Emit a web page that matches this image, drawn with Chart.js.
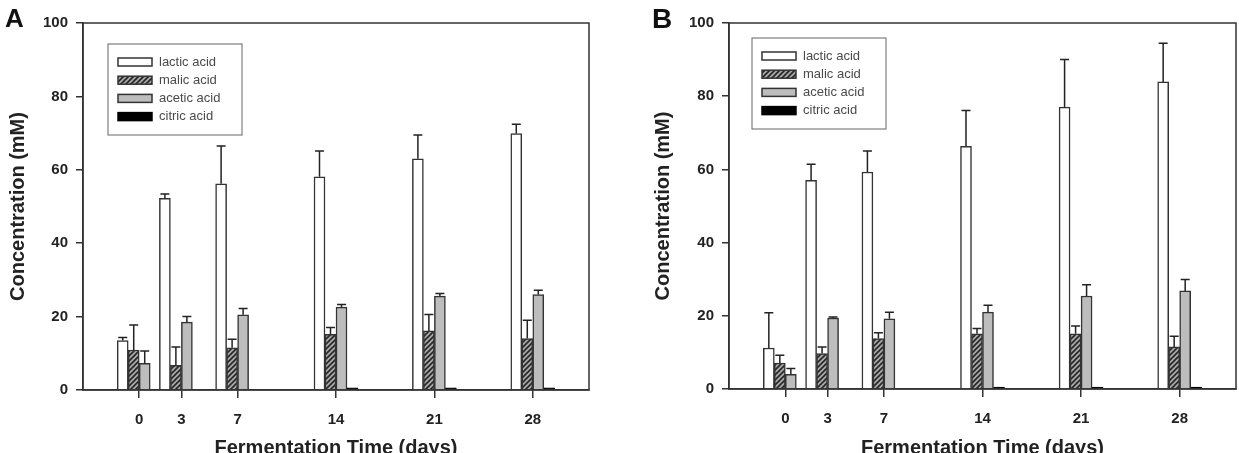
<!DOCTYPE html>
<html>
<head>
<meta charset="utf-8">
<script src="https://cdn.jsdelivr.net/npm/chart.js@4/dist/chart.umd.min.js"></script>
<style>
  body { margin: 0; background: #fff; }
  .panel { position: absolute; top: 0; height: 453px; }
  .tag { position: absolute; font: bold 26px Arial, "Liberation Sans", sans-serif; line-height: 1; color: #111; }
</style>
</head>
<body>
<div class="panel" style="left:0;width:600px"><canvas id="chartA"></canvas></div>
<div class="panel" style="left:620px;width:619px"><canvas id="chartB"></canvas></div>
<div class="tag" style="left:5px;top:5px">A</div>
<div class="tag" style="left:652px;top:5px;font-size:28px">B</div>
<script>
// Daten (mM), Fehler = obere Standardabweichung
const days = [0, 3, 7, 14, 21, 28];
const seriesNames = ['lactic acid', 'malic acid', 'acetic acid', 'citric acid'];

const lacticA = [13.5, 52.2, 56.2, 58.1, 63.0, 69.9];
const lacticErrA = [0.8, 1.2, 10.3, 7.0, 6.5, 2.5];
const malicA = [10.9, 6.7, 11.5, 15.2, 16.1, 14.0];
const malicErrA = [6.8, 5.0, 2.3, 1.8, 4.5, 5.0];
const aceticA = [7.3, 18.5, 20.5, 22.6, 25.6, 26.0];
const aceticErrA = [3.3, 1.5, 1.7, 0.7, 0.7, 1.2];
const citricA = [0, 0, 0, 0.6, 0.6, 0.6];

const lacticB = [11.2, 57.0, 59.3, 66.3, 77.0, 83.9];
const lacticErrB = [9.6, 4.4, 5.7, 9.8, 13.0, 10.6];
const malicB = [7.1, 9.7, 13.8, 15.1, 15.1, 11.5];
const malicErrB = [2.1, 1.8, 1.6, 1.4, 2.1, 2.9];
const aceticB = [4.0, 19.4, 19.2, 21.0, 25.4, 26.8];
const aceticErrB = [1.6, 0.3, 1.8, 1.9, 3.1, 3.1];
const citricB = [0, 0, 0, 0.5, 0.5, 0.5];

const yTicks = [0, 20, 40, 60, 80, 100];

const FONT = 'Arial, "Liberation Sans", sans-serif';
const LINE = '#333';

// schraffiertes Muster fuer malic acid
function hatch(ctx) {
  const c = document.createElement('canvas');
  c.width = 5; c.height = 5;
  const g = c.getContext('2d');
  g.fillStyle = '#a8a8a8';
  g.fillRect(0, 0, 5, 5);
  g.strokeStyle = '#262626';
  g.lineWidth = 1.6;
  g.beginPath();
  g.moveTo(-1, 6); g.lineTo(6, -1);
  g.moveTo(-3, 3); g.lineTo(3, -3);
  g.moveTo(2, 8); g.lineTo(8, 2);
  g.stroke();
  return ctx.createPattern(c, 'repeat');
}

// Fehlerbalken nach oben mit Querstrich
const errorBars = {
  id: 'errorBars',
  afterDatasetsDraw(chart) {
    const { ctx, scales } = chart;
    ctx.save();
    ctx.strokeStyle = '#222';
    ctx.lineWidth = 1.5;
    chart.data.datasets.forEach((ds, i) => {
      if (!ds.errors) return;
      chart.getDatasetMeta(i).data.forEach((bar, j) => {
        const err = ds.errors[j];
        if (!err) return;
        const top = scales.y.getPixelForValue(ds.data[j].y + err);
        const half = bar.width / 2 - 1;
        ctx.beginPath();
        ctx.moveTo(bar.x, bar.y);
        ctx.lineTo(bar.x, top);
        ctx.moveTo(bar.x - half, top);
        ctx.lineTo(bar.x + half, top);
        ctx.stroke();
      });
    });
    ctx.restore();
  }
};

// Rahmen um die Zeichenflaeche
const frame = {
  id: 'frame',
  afterDraw(chart) {
    const { ctx, chartArea: a } = chart;
    ctx.save();
    ctx.strokeStyle = LINE;
    ctx.lineWidth = 1.5;
    ctx.strokeRect(a.left, a.top, a.right - a.left, a.bottom - a.top);
    ctx.restore();
  }
};

// Legende im Kasten
const boxLegend = {
  id: 'boxLegend',
  afterDraw(chart, args, opts) {
    const { ctx, chartArea } = chart;
    const x = chartArea.left + opts.x;
    const y = chartArea.top + opts.y;
    ctx.save();
    ctx.strokeStyle = '#666';
    ctx.lineWidth = 1;
    ctx.strokeRect(x, y, 134, 91);
    chart.data.datasets.forEach((ds, i) => {
      const ry = y + 18 + i * 18.2;
      ctx.fillStyle = ds.backgroundColor;
      ctx.fillRect(x + 10, ry - 4, 34, 8);
      ctx.strokeStyle = ds.borderColor;
      ctx.lineWidth = 1.5;
      ctx.strokeRect(x + 10, ry - 4, 34, 8);
      ctx.fillStyle = '#4a4a4a';
      ctx.font = '13px ' + FONT;
      ctx.textBaseline = 'middle';
      ctx.fillText(ds.label, x + 51, ry);
    });
    ctx.restore();
  }
};

function points(values) {
  return days.map((d, i) => ({ x: d, y: values[i] }));
}

function makeChart(id, values, errors, o) {
  const ctx = document.getElementById(id).getContext('2d');
  const fills = ['#ffffff', hatch(ctx), '#bdbdbd', '#000000'];
  const borders = [LINE, LINE, LINE, '#000000'];
  return new Chart(ctx, {
    type: 'bar',
    data: {
      datasets: seriesNames.map((name, i) => ({
        label: name,
        data: points(values[i]),
        errors: errors[i],
        backgroundColor: fills[i],
        borderColor: borders[i],
        borderWidth: 1.5,
        barThickness: 11
      }))
    },
    options: {
      responsive: true,
      maintainAspectRatio: false,
      animation: false,
      layout: { padding: { top: 23, right: o.right, bottom: 0, left: 0 } },
      scales: {
        x: {
          type: 'linear',
          min: -4,
          max: 32,
          offset: false,
          afterBuildTicks: s => { s.ticks = days.map(v => ({ value: v })); },
          afterFit: s => { s.height = o.xHeight; },
          border: { color: LINE, width: 1.5 },
          grid: { offset: false, drawOnChartArea: false, tickLength: 8, color: LINE, lineWidth: 1.5 },
          ticks: { color: '#222', padding: 13, font: { family: FONT, size: 15, weight: 'bold' } },
          title: {
            display: true,
            text: 'Fermentation Time (days)',
            color: '#222',
            padding: { top: 0, bottom: -5 },
            font: { family: FONT, size: 20, weight: 'bold', lineHeight: 1 }
          }
        },
        y: {
          min: 0,
          max: 100,
          afterBuildTicks: s => { s.ticks = yTicks.map(v => ({ value: v })); },
          afterFit: s => { s.width = o.yWidth; },
          border: { color: LINE, width: 1.5 },
          grid: { drawOnChartArea: false, tickLength: 7, color: LINE, lineWidth: 1.5 },
          ticks: { color: '#222', padding: 8, font: { family: FONT, size: 15, weight: 'bold' } },
          title: {
            display: true,
            text: 'Concentration (mM)',
            color: '#222',
            padding: { top: o.titlePad, bottom: 0 },
            font: { family: FONT, size: 20, weight: 'bold', lineHeight: 1 }
          }
        }
      },
      plugins: {
        legend: { display: false },
        tooltip: { enabled: false },
        boxLegend: { x: o.legendX, y: o.legendY }
      }
    },
    plugins: [errorBars, frame, boxLegend]
  });
}

makeChart('chartA',
  [lacticA, malicA, aceticA, citricA],
  [lacticErrA, malicErrA, aceticErrA, null],
  { yWidth: 83, xHeight: 63, right: 11, titlePad: 8, legendX: 25, legendY: 21 });

makeChart('chartB',
  [lacticB, malicB, aceticB, citricB],
  [lacticErrB, malicErrB, aceticErrB, null],
  { yWidth: 109, xHeight: 64, right: 3, titlePad: 33, legendX: 23, legendY: 15 });
</script>
</body>
</html>
